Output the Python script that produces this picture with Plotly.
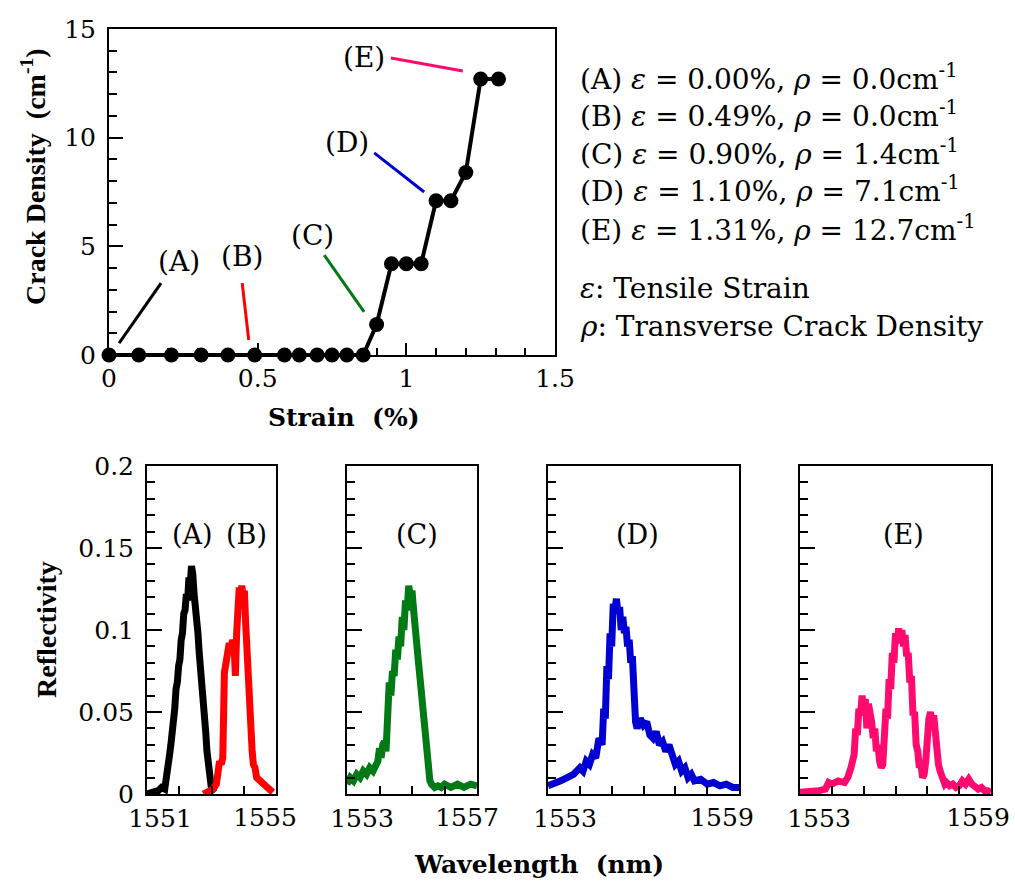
import plotly.graph_objects as go

# ---------------- data ----------------
strain = [0, 0.10, 0.21, 0.31, 0.40, 0.49, 0.59, 0.64, 0.70, 0.75, 0.80, 0.855,
          0.90, 0.95, 1.00, 1.05, 1.10, 1.15, 1.20, 1.25, 1.31]
crack_density = [0, 0, 0, 0, 0, 0, 0, 0, 0, 0, 0, 0,
                 1.4, 4.2, 4.2, 4.2, 7.1, 7.1, 8.4, 12.7, 12.7]

wl_A = [1551.00, 1551.20, 1551.35, 1551.45, 1551.55, 1551.60, 1551.65, 1551.70, 1551.74, 1551.78,
        1551.82, 1551.86, 1551.90, 1551.94, 1551.98, 1552.02, 1552.06, 1552.10, 1552.14, 1552.18,
        1552.22, 1552.26, 1552.30, 1552.34, 1552.38, 1552.42, 1552.46, 1552.50, 1552.54, 1552.58,
        1552.62, 1552.66, 1552.70, 1552.74, 1552.78, 1552.82, 1552.86, 1552.90, 1552.95, 1553.00, 1553.10]
ref_A = [0.000, 0.001, 0.002, 0.004, 0.003, 0.010, 0.015, 0.024, 0.030, 0.036,
         0.048, 0.052, 0.064, 0.068, 0.078, 0.082, 0.094, 0.098, 0.110, 0.112,
         0.122, 0.118, 0.132, 0.128, 0.139, 0.134, 0.122, 0.116, 0.104, 0.098,
         0.086, 0.078, 0.068, 0.060, 0.046, 0.038, 0.026, 0.016, 0.008, 0.003, 0.001]

wl_B = [1552.75, 1552.90, 1553.05, 1553.15, 1553.20, 1553.25, 1553.30, 1553.35, 1553.40, 1553.45,
        1553.50, 1553.55, 1553.60, 1553.65, 1553.70, 1553.74, 1553.78, 1553.82, 1553.86, 1553.90,
        1553.94, 1553.98, 1554.02, 1554.06, 1554.10, 1554.14, 1554.18, 1554.22, 1554.26, 1554.30,
        1554.35, 1554.40, 1554.50, 1554.60, 1554.70, 1554.80, 1554.90]
ref_B = [0.000, 0.002, 0.003, 0.006, 0.012, 0.020, 0.018, 0.022, 0.074, 0.080,
         0.088, 0.092, 0.086, 0.094, 0.090, 0.072, 0.098, 0.118, 0.126, 0.122,
         0.127, 0.120, 0.124, 0.104, 0.084, 0.062, 0.046, 0.036, 0.026, 0.018,
         0.016, 0.010, 0.008, 0.006, 0.004, 0.002, 0.001]

wl_C = [1553.00, 1553.10, 1553.20, 1553.30, 1553.40, 1553.50, 1553.60, 1553.70, 1553.80, 1553.90,
        1553.95, 1554.00, 1554.05, 1554.10, 1554.15, 1554.20, 1554.25, 1554.30, 1554.35, 1554.40,
        1554.45, 1554.50, 1554.55, 1554.60, 1554.65, 1554.70, 1554.75, 1554.80, 1554.85, 1554.90,
        1554.95, 1555.00, 1555.05, 1555.10, 1555.15, 1555.20, 1555.25, 1555.30, 1555.35, 1555.40,
        1555.45, 1555.50, 1555.55, 1555.60, 1555.70, 1555.80, 1555.90, 1556.00, 1556.20, 1556.40,
        1556.60, 1556.80, 1557.00]
ref_C = [0.006, 0.010, 0.008, 0.012, 0.010, 0.014, 0.012, 0.016, 0.014, 0.018,
         0.020, 0.028, 0.022, 0.030, 0.032, 0.026, 0.040, 0.068, 0.060, 0.075,
         0.072, 0.088, 0.082, 0.096, 0.090, 0.108, 0.100, 0.118, 0.112, 0.127,
         0.120, 0.124, 0.112, 0.104, 0.094, 0.080, 0.070, 0.060, 0.046, 0.032,
         0.020, 0.012, 0.008, 0.006, 0.004, 0.005, 0.004, 0.006, 0.004, 0.006,
         0.004, 0.006, 0.005]

wl_D = [1553.0, 1553.2, 1553.4, 1553.6, 1553.8, 1554.0, 1554.1, 1554.2, 1554.3, 1554.4,
        1554.5, 1554.6, 1554.7, 1554.75, 1554.8, 1554.85, 1554.9, 1554.95, 1555.0, 1555.05,
        1555.1, 1555.15, 1555.2, 1555.25, 1555.3, 1555.35, 1555.4, 1555.45, 1555.5, 1555.55,
        1555.6, 1555.65, 1555.7, 1555.75, 1555.8, 1555.9, 1556.0, 1556.1, 1556.2, 1556.3,
        1556.4, 1556.5, 1556.6, 1556.7, 1556.8, 1556.9, 1557.0, 1557.1, 1557.2, 1557.3,
        1557.4, 1557.5, 1557.6, 1557.8, 1558.0, 1558.2, 1558.4, 1558.6, 1558.8, 1559.0]
ref_D = [0.005, 0.006, 0.008, 0.010, 0.012, 0.016, 0.014, 0.020, 0.018, 0.024,
         0.022, 0.034, 0.030, 0.052, 0.046, 0.078, 0.070, 0.098, 0.090, 0.116,
         0.112, 0.119, 0.110, 0.114, 0.100, 0.108, 0.098, 0.102, 0.090, 0.094,
         0.080, 0.084, 0.060, 0.044, 0.040, 0.046, 0.042, 0.044, 0.036, 0.034,
         0.038, 0.030, 0.032, 0.026, 0.030, 0.022, 0.018, 0.020, 0.014, 0.016,
         0.010, 0.012, 0.008, 0.009, 0.006, 0.007, 0.005, 0.006, 0.004, 0.004]

wl_E = [1553.0, 1553.3, 1553.6, 1553.8, 1553.9, 1554.0, 1554.2, 1554.4, 1554.5, 1554.6,
        1554.7, 1554.75, 1554.8, 1554.85, 1554.9, 1554.95, 1555.0, 1555.05, 1555.1, 1555.15,
        1555.2, 1555.25, 1555.3, 1555.35, 1555.4, 1555.45, 1555.5, 1555.55, 1555.6, 1555.65,
        1555.7, 1555.75, 1555.8, 1555.85, 1555.9, 1555.95, 1556.0, 1556.05, 1556.1, 1556.15,
        1556.2, 1556.25, 1556.3, 1556.35, 1556.4, 1556.45, 1556.5, 1556.55, 1556.6, 1556.65,
        1556.7, 1556.75, 1556.8, 1556.85, 1556.9, 1556.95, 1557.0, 1557.05, 1557.1, 1557.15,
        1557.2, 1557.25, 1557.3, 1557.35, 1557.4, 1557.45, 1557.5, 1557.55, 1557.6, 1557.7,
        1557.8, 1557.9, 1558.0, 1558.1, 1558.2, 1558.3, 1558.4, 1558.5, 1558.6, 1558.7,
        1558.8, 1558.9, 1559.0]
ref_E = [0.001, 0.001, 0.002, 0.003, 0.007, 0.006, 0.008, 0.007, 0.010, 0.016,
         0.024, 0.040, 0.036, 0.052, 0.048, 0.060, 0.052, 0.058, 0.040, 0.055,
         0.050, 0.044, 0.034, 0.040, 0.026, 0.030, 0.020, 0.016, 0.018, 0.034,
         0.052, 0.046, 0.070, 0.064, 0.086, 0.080, 0.098, 0.092, 0.101, 0.094,
         0.100, 0.090, 0.097, 0.084, 0.086, 0.068, 0.072, 0.048, 0.050, 0.030,
         0.026, 0.016, 0.018, 0.010, 0.012, 0.020, 0.036, 0.046, 0.050, 0.044,
         0.048, 0.036, 0.030, 0.018, 0.014, 0.010, 0.008, 0.006, 0.007, 0.005,
         0.006, 0.004, 0.005, 0.008, 0.006, 0.009, 0.006, 0.004, 0.003, 0.004,
         0.002, 0.002, 0.001]

state_labels = ["(A)", "(B)", "(C)", "(D)", "(E)"]
state_strain = ["0.00", "0.49", "0.90", "1.10", "1.31"]
state_density = ["0.0", "0.0", "1.4", "7.1", "12.7"]
state_colors = ["#000000", "#FF0000", "#007A14", "#0000D2", "#FF0A6E"]

# leader lines in the strain/crack-density plot: (x0, y0, x1, y1) and label position
leader_lines = [(0.034, 0.55, 0.175, 3.31), (0.448, 3.31, 0.470, 0.69),
                (0.724, 4.60, 0.858, 1.98), (0.892, 9.30, 1.060, 7.50),
                (0.948, 13.67, 1.190, 13.07)]
leader_label_pos = [(0.236, 4.28), (0.446, 4.51), (0.683, 5.52), (0.799, 9.80), (0.858, 13.71)]

top_xticks = [0, 0.5, 1, 1.5]
top_xticktext = ["0", "0.5", "1", "1.5"]
top_yticks = [0, 5, 10, 15]
refl_ticks = [0, 0.05, 0.1, 0.15, 0.2]
refl_ticktext = ["0", "0.05", "0.1", "0.15", "0.2"]

panel_ranges = [(1551, 1555), (1553, 1557), (1553, 1559), (1553, 1559)]
panel_labels = [[("(A)", 1552.4), ("(B)", 1554.1)], [("(C)", 1555.15)],
                [("(D)", 1555.8)], [("(E)", 1556.24)]]

# ---------------- layout helpers ----------------
W, H = 1015, 881
SERIF = "Liberation Serif"
WIDE = "DejaVu Serif"


def px_x(p):
    return p / W


def px_y(p):
    return 1 - p / H


fig = go.Figure()

# ---- top plot
fig.add_trace(go.Scatter(x=strain, y=crack_density, mode="lines+markers",
                         line=dict(color="black", width=4),
                         marker=dict(color="black", size=15),
                         cliponaxis=False, showlegend=False, xaxis="x", yaxis="y"))

# ---- bottom spectra
spectra = [(wl_A, ref_A, 0, 2), (wl_B, ref_B, 1, 2), (wl_C, ref_C, 2, 3),
           (wl_D, ref_D, 3, 4), (wl_E, ref_E, 4, 5)]
for wl, rf, ci, ax in spectra:
    fig.add_trace(go.Scatter(x=wl, y=rf, mode="lines",
                             line=dict(color=state_colors[ci], width=7),
                             showlegend=False, xaxis=f"x{ax}", yaxis=f"y{ax}"))

# invisible helper traces so the overlaying label axes get drawn
for i, (r0, r1) in enumerate(panel_ranges):
    fig.add_trace(go.Scatter(x=[r0, r1], y=[0, 0], mode="markers",
                             marker=dict(opacity=0, size=1), hoverinfo="skip",
                             showlegend=False, xaxis=f"x{i + 6}", yaxis=f"y{i + 2}"))

tickfont = dict(family=WIDE, size=25, color="black")
axis_common = dict(showgrid=False, zeroline=False, showline=True, mirror=True,
                   linecolor="black", linewidth=2, ticks="inside", tickcolor="black",
                   tickwidth=2, automargin=False, tickfont=tickfont)
minor_tick = dict(ticks="inside", tickcolor="black", tickwidth=2)

layout = dict(
    width=W, height=H, margin=dict(l=0, r=0, t=0, b=0),
    paper_bgcolor="white", plot_bgcolor="white", showlegend=False,
    font=dict(family=WIDE, color="black"),
)

layout["xaxis"] = dict(axis_common, domain=[px_x(109), px_x(555)], range=[0, 1.5],
                       tickmode="array", tickvals=top_xticks, ticktext=top_xticktext,
                       ticklen=12, minor=dict(minor_tick, dtick=0.1, ticklen=7),
                       anchor="y")
layout["yaxis"] = dict(axis_common, domain=[px_y(355), px_y(29)], range=[0, 15],
                       tickmode="array", tickvals=top_yticks,
                       ticklen=14, ticklabelstandoff=6,
                       minor=dict(minor_tick, dtick=1, ticklen=8),
                       anchor="x")

panel_px = [(147, 276), (347, 477), (548, 739), (800, 991)]
left_label_shift = [13, 15, 17, 19]
right_label_shift = [-11, -10, -17, -13]
for i, ((x0, x1), (r0, r1)) in enumerate(zip(panel_px, panel_ranges)):
    n = i + 2
    # main axis: frame, integer ticks, label of the right end
    layout[f"xaxis{n}"] = dict(axis_common, domain=[px_x(x0), px_x(x1)], range=[r0, r1],
                               tickmode="array", tickvals=[r1], ticktext=[str(r1)],
                               ticklen=8, ticklabelshift=right_label_shift[i],
                               ticklabeloverflow="allow",
                               minor=dict(minor_tick, tickmode="linear", tick0=r0, dtick=1,
                                          ticklen=8),
                               anchor=f"y{n}")
    # overlaying axis: label of the left end
    layout[f"xaxis{n + 4}"] = dict(showgrid=False, zeroline=False, showline=False,
                                   ticks="", automargin=False, tickfont=tickfont,
                                   domain=[px_x(x0), px_x(x1)],
                                   range=[r0, r1], tickmode="array", tickvals=[r0],
                                   ticktext=[str(r0)], ticklabelshift=left_label_shift[i],
                                   ticklabelstandoff=7, ticklabeloverflow="allow",
                                   overlaying=f"x{n}", anchor=f"y{n}", side="bottom")
    layout[f"yaxis{n}"] = dict(axis_common, domain=[px_y(794), px_y(466)], range=[0, 0.2],
                               tickmode="array", tickvals=refl_ticks,
                               ticktext=refl_ticktext, showticklabels=(i == 0),
                               ticklen=15, ticklabelstandoff=6,
                               minor=dict(minor_tick, dtick=0.01, ticklen=8),
                               anchor=f"x{n}")

fig.update_layout(**layout)

# leader lines + labels in top plot
for (x0, y0, x1, y1), col in zip(leader_lines, state_colors):
    fig.add_shape(type="line", x0=x0, y0=y0, x1=x1, y1=y1, xref="x", yref="y",
                  line=dict(color=col, width=3))
for lab, (lx, ly) in zip(state_labels, leader_label_pos):
    fig.add_annotation(x=lx, y=ly, xref="x", yref="y", text=lab, showarrow=False,
                       xanchor="center", yanchor="middle",
                       font=dict(family=WIDE, size=28, color="black"))

# panel labels in spectra
for i, labs in enumerate(panel_labels):
    n = i + 2
    for lab, lx in labs:
        fig.add_annotation(x=lx, y=0.158, xref=f"x{n}", yref=f"y{n}", text=lab,
                           showarrow=False, xanchor="center", yanchor="middle",
                           font=dict(family=WIDE, size=27, color="black"))

# right-hand description block
legend_y = [77, 115, 152, 190, 228]
for lab, s, d, yy in zip(state_labels, state_strain, state_density, legend_y):
    txt = f"{lab} <i>ε</i> = {s}%, <i>ρ</i> = {d}cm<sup>-1</sup>"
    fig.add_annotation(x=px_x(578), y=px_y(yy), xref="paper", yref="paper", text=txt,
                       showarrow=False, xanchor="left", yanchor="middle",
                       font=dict(family=WIDE, size=28, color="black"))
fig.add_annotation(x=px_x(578), y=px_y(288), xref="paper", yref="paper",
                   text="<i>ε</i>: Tensile Strain", showarrow=False, xanchor="left",
                   yanchor="middle", font=dict(family=WIDE, size=28, color="black"))
fig.add_annotation(x=px_x(578), y=px_y(327), xref="paper", yref="paper",
                   text="<i>ρ</i>: Transverse Crack Density", showarrow=False, xanchor="left",
                   yanchor="middle", font=dict(family=WIDE, size=28, color="black"))

# axis titles
fig.add_annotation(x=px_x(33), y=px_y(177), xref="paper", yref="paper",
                   text="<b>Crack Density\u00a0\u00a0(cm<sup>-1</sup>)</b>", textangle=-90,
                   showarrow=False, xanchor="center", yanchor="middle",
                   font=dict(family=SERIF, size=28, color="black"))
fig.add_annotation(x=px_x(343), y=px_y(417), xref="paper", yref="paper",
                   text="<b>Strain\u00a0\u00a0(%)</b>", showarrow=False,
                   xanchor="center", yanchor="middle",
                   font=dict(family=WIDE, size=25, color="black"))
fig.add_annotation(x=px_x(46), y=px_y(630), xref="paper", yref="paper",
                   text="<b>Reflectivity</b>", textangle=-90, showarrow=False,
                   xanchor="center", yanchor="middle",
                   font=dict(family=SERIF, size=28, color="black"))
fig.add_annotation(x=px_x(539), y=px_y(864), xref="paper", yref="paper",
                   text="<b>Wavelength\u00a0\u00a0(nm)</b>", showarrow=False,
                   xanchor="center", yanchor="middle",
                   font=dict(family=WIDE, size=25, color="black"))

fig.write_html("out.html")
